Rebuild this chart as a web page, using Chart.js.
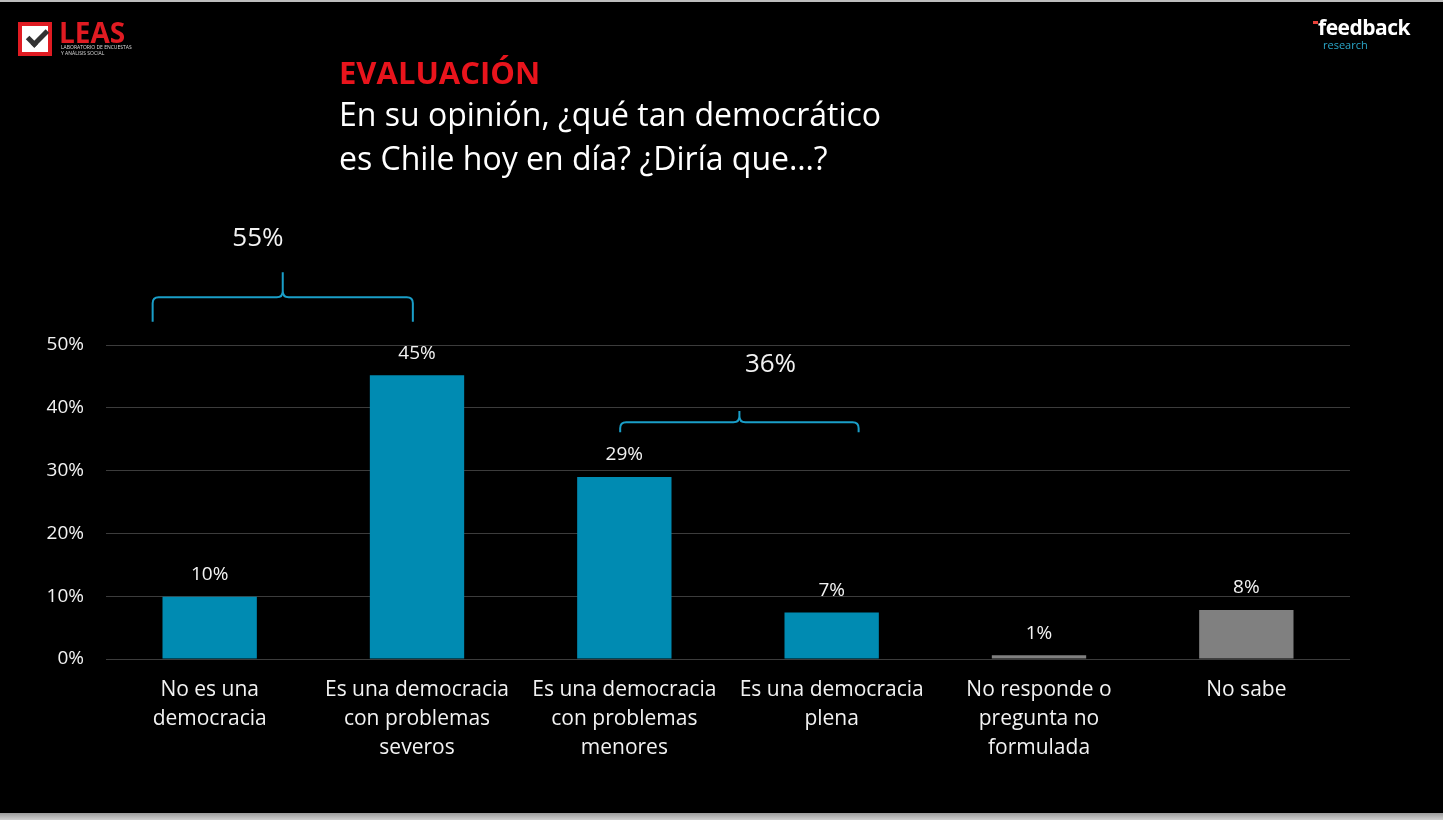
<!DOCTYPE html>
<html>
<head>
<meta charset="utf-8">
<script src="https://cdn.jsdelivr.net/npm/chart.js@4"></script>
<style>
  html, body { margin: 0; padding: 0; background: #000; }
  body { width: 1443px; height: 820px; position: relative; overflow: hidden; font-family: "Open Sans", "Noto Sans", sans-serif; }
  #topline { position: absolute; left: 0; top: 0; width: 1443px; height: 2px; background: #bdbdbd; }
  #bottomband { position: absolute; left: 0; top: 813px; width: 1443px; height: 7px; background: linear-gradient(#9a9a9a, #d0d0d0); }
  #chart { position: absolute; left: 0; top: 0; }
  .title { position: absolute; left: 339px; color: #fff; }
  #t1 { top: 51px; color: #e8141c; font-weight: 700; font-size: 31px; }
  #t2 { top: 92px; font-size: 32px; line-height: 44px; }
  /* logos */
  #leas-box { position: absolute; left: 18px; top: 22px; width: 26px; height: 26px; border: 4px solid #e01b22; background: #fff; }
  #leas-check { position: absolute; left: 27px; top: 30px; width: 16px; height: 7px; border-left: 5px solid #333; border-bottom: 5px solid #333; transform: rotate(-45deg); }
  #leas-word { position: absolute; left: 59px; top: 13px; color: #e01b22; font-weight: 700; font-size: 28px; }
  #leas-sub { position: absolute; left: 61px; top: 44px; color: #ddd; font-size: 5px; line-height: 6px; }
  #fb-word { position: absolute; left: 1318px; top: 13px; color: #fff; font-weight: 700; font-size: 21px; letter-spacing: -0.5px; }
  #fb-sub { position: absolute; left: 1323px; top: 37px; color: #2aa7c9; font-size: 11px; }
  #fb-mark { position: absolute; left: 1313px; top: 21px; width: 5px; height: 3px; background: #e8423a; }
</style>
</head>
<body>
<div id="topline"></div>
<div id="bottomband"></div>
<canvas id="chart" width="1443" height="820"></canvas>
<div id="leas-box"></div><div id="leas-check"></div>
<div id="leas-word">LEAS</div>
<div id="leas-sub">LABORATORIO DE ENCUESTAS<br>Y ANÁLISIS SOCIAL</div>
<div id="fb-mark"></div>
<div id="fb-word">feedback</div>
<div id="fb-sub">research</div>
<div class="title" id="t1">EVALUACIÓN</div>
<div class="title" id="t2">En su opinión, ¿qué tan democrático<br>es Chile hoy en día? ¿Diría que…?</div>

<script>
// data
const categories = [
  ['No es una', 'democracia'],
  ['Es una democracia', 'con problemas', 'severos'],
  ['Es una democracia', 'con problemas', 'menores'],
  ['Es una democracia', 'plena'],
  ['No responde o', 'pregunta no', 'formulada'],
  ['No sabe']
];
const values = [9.9, 45.2, 29.0, 7.4, 0.6, 7.8];
const valueLabels = ['10%', '45%', '29%', '7%', '1%', '8%'];
const barColors = ['#008bb2', '#008bb2', '#008bb2', '#008bb2', '#808080', '#808080'];
const yTicks = [0, 10, 20, 30, 40, 50];
const groupFrom = [0, 2];
const groupTo = [1, 3];
const groupLabels = ['55%', '36%'];

const FONT = '"Open Sans", "Noto Sans", sans-serif';

// value labels above bars
const valueLabelPlugin = {
  id: 'valueLabels',
  afterDatasetsDraw(chart) {
    const ctx = chart.ctx;
    const meta = chart.getDatasetMeta(0);
    ctx.save();
    ctx.fillStyle = '#f2f2f2';
    ctx.font = '19px ' + FONT;
    ctx.textAlign = 'center';
    ctx.textBaseline = 'middle';
    meta.data.forEach((bar, i) => {
      ctx.fillText(valueLabels[i], bar.x, bar.y - 22);
    });
    ctx.restore();
  }
};

// curly braces grouping categories
function drawBrace(ctx, x1, x2, yH, yEnd, yTip) {
  const xm = (x1 + x2) / 2;
  const r = 6;
  ctx.beginPath();
  ctx.moveTo(x1, yEnd);
  ctx.lineTo(x1, yH + r);
  ctx.quadraticCurveTo(x1, yH, x1 + r, yH);
  ctx.lineTo(xm - r, yH);
  ctx.quadraticCurveTo(xm, yH, xm, yH - r);
  ctx.lineTo(xm, yTip);
  ctx.moveTo(xm, yH - r);
  ctx.quadraticCurveTo(xm, yH, xm + r, yH);
  ctx.lineTo(x2 - r, yH);
  ctx.quadraticCurveTo(x2, yH, x2, yH + r);
  ctx.lineTo(x2, yEnd);
  ctx.stroke();
}

const bracePlugin = {
  id: 'braces',
  afterDraw(chart) {
    const ctx = chart.ctx;
    const xs = chart.scales.x, ys = chart.scales.y;
    const w = xs.getPixelForValue(1) - xs.getPixelForValue(0);
    // per-group geometry (offsets in category widths / axis units)
    const geo = [
      { l: -0.275, r: -0.02, yH: 57.6, yEnd: 53.7, yTip: 61.6, lx: -0.12, ly: 67.0 },
      { l: -0.02, r: 0.13, yH: 37.7, yEnd: 36.1, yTip: 39.5, lx: 0.15, ly: 46.9 }
    ];
    ctx.save();
    ctx.strokeStyle = '#1a9ec8';
    ctx.lineWidth = 2;
    groupLabels.forEach((lab, i) => {
      const g = geo[i];
      const x1 = xs.getPixelForValue(groupFrom[i]) + g.l * w;
      const x2 = xs.getPixelForValue(groupTo[i]) + g.r * w;
      drawBrace(ctx, x1, x2, ys.getPixelForValue(g.yH), ys.getPixelForValue(g.yEnd), ys.getPixelForValue(g.yTip));
      ctx.fillStyle = '#f2f2f2';
      ctx.font = '26px ' + FONT;
      ctx.textAlign = 'center';
      ctx.textBaseline = 'middle';
      ctx.fillText(lab, (x1 + x2) / 2 + g.lx * w, ys.getPixelForValue(g.ly));
    });
    ctx.restore();
  }
};

const ctx = document.getElementById('chart').getContext('2d');
new Chart(ctx, {
  type: 'bar',
  data: {
    labels: categories,
    datasets: [{
      data: values,
      backgroundColor: barColors,
      borderWidth: 0,
      barPercentage: 0.455,
      categoryPercentage: 1.0
    }]
  },
  options: {
    responsive: false,
    animation: false,
    devicePixelRatio: 1,
    layout: { padding: { top: 345, right: 93, left: 0, bottom: 0 } },
    plugins: { legend: { display: false }, tooltip: { enabled: false } },
    scales: {
      x: {
        grid: { display: false, drawTicks: false },
        border: { display: false },
        ticks: { color: '#f2f2f2', font: { size: 21, family: FONT, lineHeight: 1.38 }, padding: 17, maxRotation: 0, autoSkip: false },
        afterFit(scale) { scale.height = 161; }
      },
      y: {
        min: 0, max: 50,
        afterBuildTicks(scale) { scale.ticks = yTicks.map(v => ({ value: v })); },
        grid: { color: '#3c3c3c', lineWidth: 1, drawTicks: false },
        border: { display: false },
        ticks: { color: '#f2f2f2', font: { size: 19, family: FONT }, padding: 22, callback: v => v + '%' },
        afterFit(scale) { scale.width = 106; }
      }
    }
  },
  plugins: [valueLabelPlugin, bracePlugin]
});
</script>
</body>
</html>
